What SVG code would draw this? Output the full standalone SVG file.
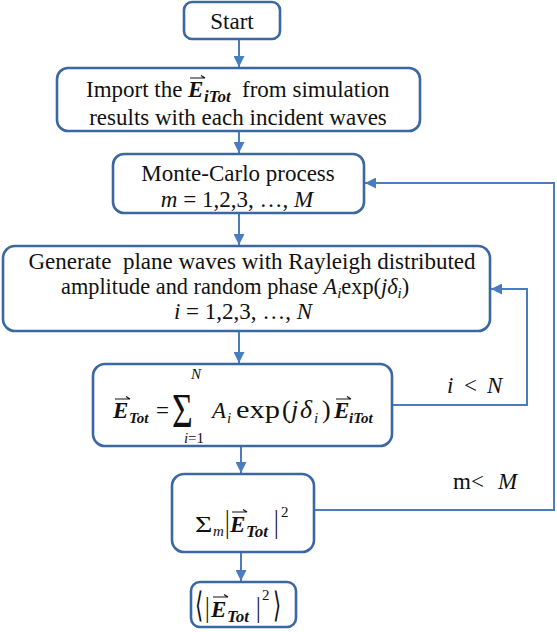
<svg xmlns="http://www.w3.org/2000/svg" width="557" height="632" viewBox="0 0 557 632">
<style>
.box{fill:#fff;stroke:#3b67a3;stroke-width:2.6}
.conn{stroke:#4a7cc0;stroke-width:2;fill:none}
.t{font-family:"Liberation Serif","Times New Roman",serif;font-size:23px;fill:#111}
.it{font-style:italic}
.bi{font-style:italic;font-weight:bold}
.sub{font-size:15px}
.sub17{font-size:17px}
.big{font-size:26px}
.acc{stroke:#111;stroke-width:1.2;fill:none}
</style>
<defs>
<marker id="ah" viewBox="0 0 10 10" refX="10" refY="5" markerWidth="11" markerHeight="11" markerUnits="userSpaceOnUse" orient="auto"><path d="M0,0 L10,5 L0,10 z" fill="#4a7cc0"/></marker>
</defs>
<rect width="557" height="632" fill="#fff"/>
<g id="connectors">
<path class="conn" d="M239,39 V67" marker-end="url(#ah)"/>
<path class="conn" d="M239,131 V153" marker-end="url(#ah)"/>
<path class="conn" d="M239,213 V245" marker-end="url(#ah)"/>
<path class="conn" d="M239,331 V363" marker-end="url(#ah)"/>
<path class="conn" d="M241,446 V473" marker-end="url(#ah)"/>
<path class="conn" d="M241,552 V581" marker-end="url(#ah)"/>
<path class="conn" d="M392,405 H527 V289 H491" marker-end="url(#ah)"/>
<path class="conn" d="M314,510 H554 V183 H365" marker-end="url(#ah)"/>
</g>
<g id="start">
<rect class="box" x="184" y="2" width="96" height="37" rx="8"/>
<text class="t" x="232" y="29" text-anchor="middle">Start</text>
</g>
<g id="import">
<rect class="box" x="57" y="68" width="363" height="63" rx="11"/>
<text class="t" x="86" y="97">Import the</text>
<text class="t bi" x="188" y="97">E</text>
<text class="t bi sub17" x="204" y="102">iTot</text>
<path class="acc" d="M190,78 H205 M201,75.5 L205,78"/>
<text class="t" x="242" y="97">from simulation</text>
<text class="t" x="238" y="125" text-anchor="middle">results with each incident waves</text>
</g>
<g id="montecarlo">
<rect class="box" x="113" y="154" width="251" height="59" rx="11"/>
<text class="t" x="238" y="181" text-anchor="middle">Monte-Carlo process</text>
<text class="t" x="237" y="207" text-anchor="middle"><tspan class="it">m</tspan> = 1,2,3, …, <tspan class="it">M</tspan></text>
</g>
<g id="generate">
<rect class="box" x="3" y="246" width="487" height="85" rx="12"/>
<text class="t" x="252" y="269" text-anchor="middle" xml:space="preserve">Generate  plane waves with Rayleigh distributed</text>
<text class="t" x="61" y="294" style="font-size:22.3px">amplitude and random phase <tspan class="it">A</tspan><tspan class="it sub" dy="4">i</tspan><tspan dy="-4">exp(</tspan><tspan class="it">jδ</tspan><tspan class="it sub" dy="4">i</tspan><tspan dy="-4">)</tspan></text>
<text class="t" x="243" y="319" text-anchor="middle"><tspan class="it">i</tspan> = 1,2,3, …, <tspan class="it">N</tspan></text>
</g>
<g id="sum">
<rect class="box" x="93" y="364" width="299" height="82" rx="12"/>
<text class="t bi" x="113" y="418">E</text>
<text class="t bi sub" x="129" y="423">Tot</text>
<path class="acc" d="M115,399 H130 M126,396.5 L130,399"/>
<text class="t" x="156" y="418">=</text>
<text class="t" x="0" y="0" transform="translate(172,427) scale(1.55,2.1)">Σ</text>
<text class="t it sub" x="196" y="379" text-anchor="middle">N</text>
<text class="t sub" x="194" y="443" text-anchor="middle"><tspan class="it">i</tspan>=1</text>
<text class="t" y="418"><tspan class="it" x="212">A</tspan><tspan class="it sub" x="227" y="423">i</tspan><tspan class="big" x="236" y="418" textLength="44" lengthAdjust="spacingAndGlyphs">exp</tspan><tspan class="big" x="282">(</tspan><tspan class="big it" x="291">j</tspan><tspan class="big it" x="300">δ</tspan><tspan class="it sub" x="314" y="423">i</tspan><tspan class="big" x="322" y="418">)</tspan></text>
<text class="t bi" x="334" y="418">E</text>
<text class="t bi sub" x="349" y="423">iTot</text>
<path class="acc" d="M336,399 H351 M347,396.5 L351,399"/>
</g>
<g id="loop-i-label">
<text class="t" y="393"><tspan class="it" x="447">i</tspan><tspan x="464">&lt;</tspan><tspan class="it" x="487">N</tspan></text>
</g>
<g id="accumulate">
<rect class="box" x="172" y="474" width="142" height="78" rx="12"/>
<text class="t" x="0" y="0" transform="translate(195,532) scale(1.3,1)">Σ</text>
<text class="t it sub" x="213" y="536">m</text>
<text class="t" x="0" y="0" transform="translate(225,532) scale(1,1.35)">|</text>
<text class="t bi" x="230" y="532">E</text>
<text class="t bi sub17" x="246" y="537">Tot</text>
<path class="acc" d="M232,512 H247 M243,509.5 L247,512"/>
<text class="t" x="0" y="0" transform="translate(274,532) scale(1,1.35)">|</text>
<text class="t sub" x="281" y="517">2</text>
</g>
<g id="loop-m-label">
<text class="t" y="489"><tspan x="453">m&lt;</tspan><tspan class="it" x="498">M</tspan></text>
</g>
<g id="result">
<rect class="box" x="191" y="582" width="105" height="45" rx="9"/>
<text class="t" x="0" y="0" transform="translate(195,617) scale(0.9,1.5)">⟨</text>
<text class="t" x="0" y="0" transform="translate(205,617) scale(1,1.3)">|</text>
<text class="t bi" x="211" y="617">E</text>
<text class="t bi sub17" x="227" y="622">Tot</text>
<path class="acc" d="M213,597 H228 M224,594.5 L228,597"/>
<text class="t" x="0" y="0" transform="translate(256,617) scale(1,1.3)">|</text>
<text class="t sub" x="262" y="600">2</text>
<text class="t" x="0" y="0" transform="translate(273,617) scale(0.9,1.5)">⟩</text>
</g>
</svg>
